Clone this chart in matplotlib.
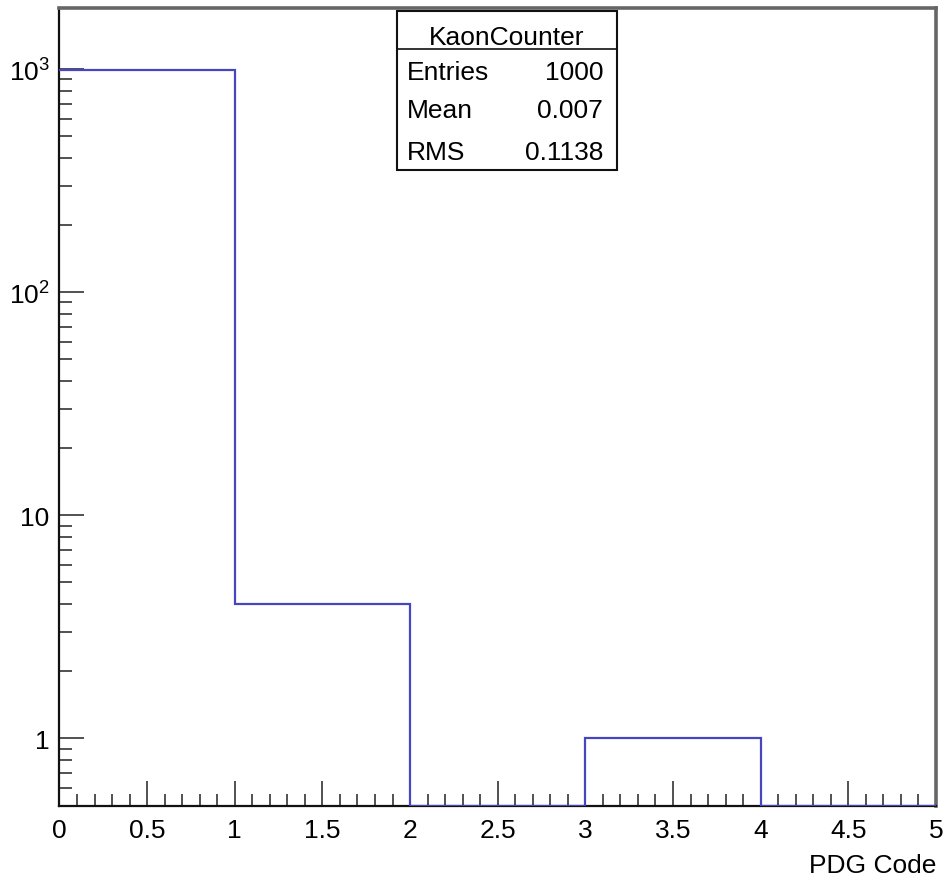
import numpy as np
import matplotlib
matplotlib.use("Agg")
import matplotlib.pyplot as plt
from matplotlib.patches import Rectangle
from matplotlib.lines import Line2D

# ── Histogram contents ───────────────────────────────────────────────────────
bin_edges  = [0, 1, 2, 3, 4, 5]
fill_value = [0, 1, 2, 3, 4]          # value filled into each bin
counts     = [995, 4, 0, 1, 0]
hist_name  = "KaonCounter"
x_title    = "PDG Code"

x_ticks       = [0, 0.5, 1, 1.5, 2, 2.5, 3, 3.5, 4, 4.5, 5]
x_tick_labels = ["0", "0.5", "1", "1.5", "2", "2.5", "3", "3.5", "4", "4.5", "5"]
y_ticks       = [1, 10, 100, 1000]
y_tick_labels = ["1", "10", "$10^{2}$", "$10^{3}$"]

Y_MIN, Y_MAX = 0.5, 1880

plt.rcParams["font.family"] = ["Liberation Sans Narrow", "Liberation Sans", "DejaVu Sans"]
plt.rcParams["mathtext.default"] = "regular"

LINE_BLUE = "#4646c0"
FS = 19

fig = plt.figure(figsize=(9.47, 8.78), dpi=100)
ax = fig.add_axes([0.0628, 0.0814, 0.9255, 0.9083])

# empty bins sit on the lower edge of the log axis, as ROOT draws them
counts_arr = np.asarray(counts, dtype=float)
shown = np.where(counts_arr > 0, counts_arr, Y_MIN)
ax.stairs(shown, bin_edges, baseline=None, color=LINE_BLUE, lw=1.6, zorder=3)

ax.set_yscale("log")
ax.set_xlim(bin_edges[0], bin_edges[-1])
ax.set_ylim(Y_MIN, Y_MAX)

ax.set_xticks(x_ticks)
ax.set_xticklabels(x_tick_labels, fontsize=FS)
ax.set_xticks(np.arange(0, 5.01, 0.1), minor=True)
ax.set_yticks(y_ticks)
ax.set_yticklabels(y_tick_labels, fontsize=FS)
ax.yaxis.set_minor_locator(matplotlib.ticker.LogLocator(base=10, subs=np.arange(2, 10)))
ax.yaxis.set_minor_formatter(matplotlib.ticker.NullFormatter())

ax.tick_params(which="major", direction="in", length=18, width=1.1, color="#222222")
ax.tick_params(which="minor", direction="in", length=9, width=1.1, color="#222222")
ax.tick_params(axis="x", which="major", pad=9)
ax.tick_params(axis="y", which="major", pad=7)

for side in ("left", "bottom"):
    ax.spines[side].set_color("#111111")
    ax.spines[side].set_linewidth(1.6)
for side in ("top", "right"):
    ax.spines[side].set_color("#666666")
    ax.spines[side].set_linewidth(2.6)

ax.set_xlabel(x_title, loc="right", fontsize=FS, labelpad=8)

# ── Stats box ────────────────────────────────────────────────────────────────
vals = np.asarray(fill_value, dtype=float)
n_entries = counts_arr.sum()
mean = (vals * counts_arr).sum() / n_entries
rms = np.sqrt((counts_arr * (vals - mean) ** 2).sum() / n_entries)

W, H = 947.0, 878.0
bx0, bx1, by0, by1 = 397, 617, 12, 171
sep_y = 50

def fx(px):
    return px / W

def fy(py):
    return 1 - py / H

fig.add_artist(Rectangle((fx(bx0), fy(by1)), fx(bx1) - fx(bx0), fy(by0) - fy(by1),
                         transform=fig.transFigure, facecolor="white",
                         edgecolor="#111111", lw=1.5, zorder=5))
fig.add_artist(Line2D([fx(bx0), fx(bx1)], [fy(sep_y), fy(sep_y)],
                      transform=fig.transFigure, color="#111111", lw=1.2, zorder=6))

fig.text(fx((bx0 + bx1) / 2), fy(38), hist_name, ha="center", va="center",
         fontsize=FS, zorder=7)
rows = [("Entries", f"{int(n_entries)}"),
        ("Mean", f"{mean:.3f}"),
        ("RMS", f"{rms:.4f}")]
row_y = [73, 111, 153]
for (label, value), py in zip(rows, row_y):
    fig.text(fx(407), fy(py), label, ha="left", va="center", fontsize=FS, zorder=7)
    fig.text(fx(603), fy(py), value, ha="right", va="center", fontsize=FS, zorder=7)

fig.savefig("out.png", dpi=100)
